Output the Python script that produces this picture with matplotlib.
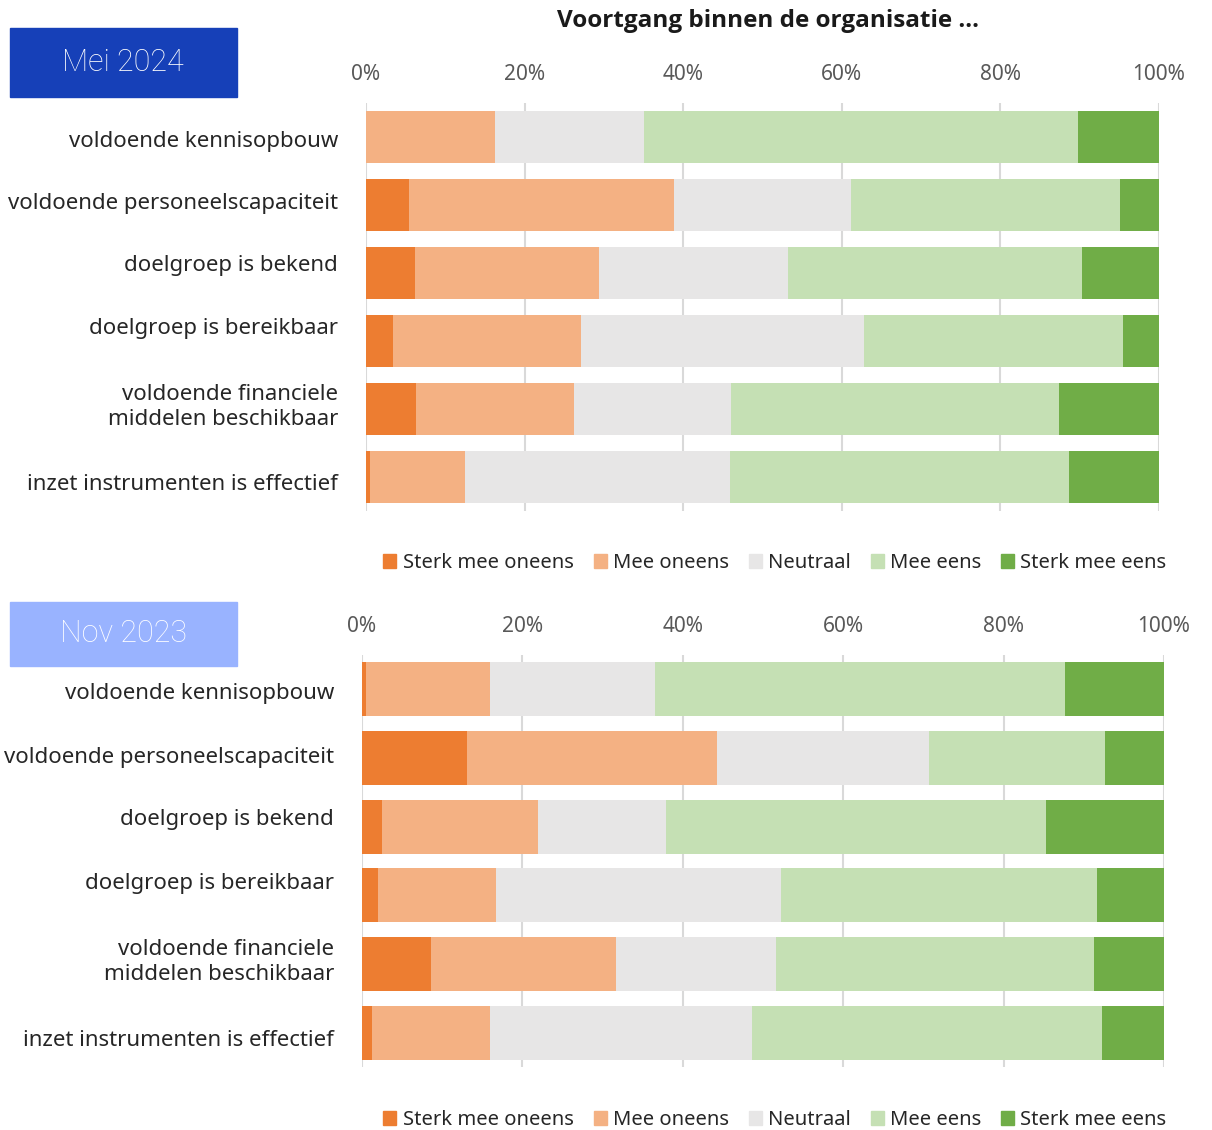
import numpy as np
import matplotlib.pyplot as plt
from matplotlib.patches import Patch
from matplotlib.ticker import PercentFormatter

plt.rcParams['font.family'] = ['Noto Sans', 'DejaVu Sans']

items = ['voldoende kennisopbouw', 'voldoende personeelscapaciteit', 'doelgroep is bekend',
         'doelgroep is bereikbaar', 'voldoende financiele\nmiddelen beschikbaar',
         'inzet instrumenten is effectief']
answers = ['Sterk mee oneens', 'Mee oneens', 'Neutraal', 'Mee eens', 'Sterk mee eens']
colors = ['#ED7D31', '#F4B183', '#E7E6E6', '#C5E0B4', '#70AD47']
xticks = [0, 20, 40, 60, 80, 100]

# Mei 2024 (% of respondents, same order as items)
mei_sterk_oneens = [0.0, 5.4, 6.2, 3.4, 6.3, 0.5]
mei_oneens = [16.3, 33.4, 23.2, 23.7, 19.9, 12.0]
mei_neutraal = [18.7, 22.3, 23.8, 35.7, 19.8, 33.4]
mei_eens = [54.8, 34.0, 37.1, 32.6, 41.4, 42.8]
mei_sterk_eens = [10.2, 4.9, 9.7, 4.6, 12.6, 11.3]

# Nov 2023
nov_sterk_oneens = [0.5, 13.1, 2.5, 2.0, 8.6, 1.3]
nov_oneens = [15.4, 31.2, 19.5, 14.7, 23.1, 14.7]
nov_neutraal = [20.6, 26.4, 15.9, 35.5, 19.9, 32.6]
nov_eens = [51.2, 21.9, 47.4, 39.5, 39.7, 43.7]
nov_sterk_eens = [12.3, 7.4, 14.7, 8.3, 8.7, 7.7]

mei = [mei_sterk_oneens, mei_oneens, mei_neutraal, mei_eens, mei_sterk_eens]
nov = [nov_sterk_oneens, nov_oneens, nov_neutraal, nov_eens, nov_sterk_eens]

W, H = 1212, 1130
fig = plt.figure(figsize=(W / 100, H / 100), dpi=100)


def stacked(rect, series, height, label_x, label_y):
    ax = fig.add_axes(rect)
    y = np.arange(len(items))
    left = np.zeros(len(items))
    for vals, c in zip(series, colors):
        vals = np.array(vals)
        ax.barh(y, vals, left=left, height=height, color=c, zorder=2)
        left += vals
    ax.set_xlim(0, 100)
    ax.set_ylim(len(items) - 0.5, -0.5)
    ax.set_yticks([])
    ax.set_xticks(xticks)
    ax.xaxis.set_major_formatter(PercentFormatter(decimals=0))
    ax.xaxis.tick_top()
    ax.tick_params(axis='x', length=0, pad=13, labelsize=15, labelcolor='#595959')
    ax.grid(axis='x', color='#D9D9D9', linewidth=1.5, zorder=0)
    for s in ax.spines.values():
        s.set_visible(False)
    # item labels (the screenshot spaces them a bit tighter than the bars)
    for txt, ly in zip(items, label_y):
        fig.text(label_x / W, 1 - ly / H, txt, ha='right', va='center', ma='right',
                 fontsize=16, color='#262626', linespacing=1.2)
    return ax


ax1 = stacked([366 / W, 1 - 511 / H, 793 / W, 408 / H], mei, 0.77, 338,
              [142, 204, 266, 328, 407, 484])
ax2 = stacked([362 / W, 1 - 1067 / H, 802 / W, 412 / H], nov, 0.79, 334,
              [694, 757, 820, 883, 962, 1041])

handles = [Patch(color=c) for c in colors]
for yc in [563, 1120]:
    fig.legend(handles, answers, loc='center', bbox_to_anchor=(775 / W, 1 - yc / H),
               ncol=5, frameon=False, fontsize=14.5, handlelength=0.65, handleheight=0.65,
               handletextpad=0.3, columnspacing=1.0, labelcolor='#262626')

fig.text(768 / W, 1 - 21 / H, 'Voortgang binnen de organisatie ...', ha='center', va='center',
         fontsize=17.5, fontweight='bold', color='#1a1a1a',
         fontfamily=['Open Sans', 'DejaVu Sans'])

# period boxes
for (y0, y1, col, txt) in [(28, 97, '#1640B8', 'Mei 2024'), (602, 666, '#99B3FF', 'Nov 2023')]:
    fig.patches.append(plt.Rectangle((10 / W, 1 - y1 / H), 227 / W, (y1 - y0) / H,
                                     transform=fig.transFigure, color=col, zorder=0))
    fig.text(123 / W, 1 - (y0 + y1) / 2 / H, txt, ha='center', va='center', fontsize=22,
             color='white', fontfamily=['Roboto', 'DejaVu Sans'], fontweight='light')

fig.savefig('out.png', dpi=100)
